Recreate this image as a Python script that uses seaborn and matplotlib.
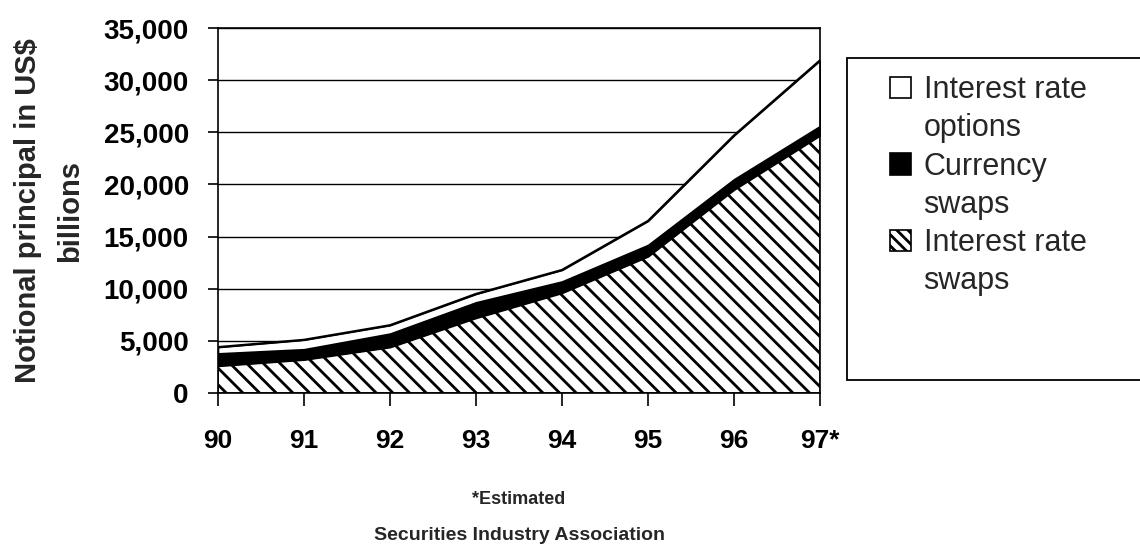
import matplotlib
matplotlib.use('Agg')
import matplotlib.pyplot as plt
import seaborn as sns
from matplotlib.patches import Patch, Rectangle
from matplotlib.ticker import FuncFormatter

# values (US$ billions)
years = ['90', '91', '92', '93', '94', '95', '96', '97*']
rate_swaps = [2600, 3200, 4400, 7200, 9600, 13100, 19500, 24700]
currency_swaps = [1200, 1000, 1300, 1500, 1100, 1100, 1000, 900]
rate_options = [600, 900, 800, 800, 1100, 2300, 4200, 6300]
y_ticks = [0, 5000, 10000, 15000, 20000, 25000, 30000, 35000]

sns.set_style('white')
plt.rcParams['font.family'] = ['Liberation Sans', 'DejaVu Sans']
plt.rcParams['hatch.linewidth'] = 2.0
plt.rcParams['hatch.color'] = 'black'

W, H = 1140, 553
fig = plt.figure(figsize=(11.4, 5.53), dpi=100)
ax = fig.add_axes([218 / W, 1 - 393 / H, 602 / W, 365 / H])

x = list(range(len(years)))
polys = ax.stackplot(x, rate_swaps, currency_swaps, rate_options,
                     colors=['white', 'black', 'white'],
                     edgecolor='black', linewidth=1.2, zorder=2)
polys[0].set_hatch('\\\\')

# outline of the total
totals = [a + b + c for a, b, c in zip(rate_swaps, currency_swaps, rate_options)]
sns.lineplot(x=x, y=totals, color='black', lw=1.6, ax=ax, zorder=3)

ax.set_xlim(0, len(years) - 1)
ax.set_ylim(0, 35000)
ax.set_xticks(x)
ax.set_xticklabels(years, fontsize=19, fontweight='bold')
ax.set_yticks(y_ticks)
ax.yaxis.set_major_formatter(FuncFormatter(lambda v, p: f'{int(v):,}'))
for lab in ax.get_yticklabels():
    lab.set_fontsize(20)
    lab.set_fontweight('bold')

ax.set_axisbelow(True)
ax.yaxis.grid(True, color='black', lw=1.0)
ax.xaxis.grid(False)
for s in ax.spines.values():
    s.set_visible(True)
    s.set_color('black')
    s.set_linewidth(1.2)

ax.tick_params(axis='x', bottom=True, direction='out', length=9, width=1.2,
               pad=17, colors='black')
ax.tick_params(axis='y', left=True, direction='out', length=7, width=1.2,
               pad=14, colors='black')

ax.set_ylabel('Notional principal in US$\nbillions', fontsize=21,
              fontweight='bold', linespacing=1.65)
ax.yaxis.set_label_coords((84 - 218) / 602, 0.5)
ax.set_xlabel('')

fig.text(519 / W, 1 - 500 / H, '*Estimated', ha='center', va='center',
         fontsize=13, fontweight='bold')
fig.text(519 / W, 1 - 535 / H, 'Securities Industry Association',
         ha='center', va='center', fontsize=14, fontweight='bold')

# legend box (runs off the right edge like the original)
fig.patches.append(Rectangle((847 / W, 1 - 380 / H), 310 / W, 322 / H,
                             transform=fig.transFigure, facecolor='white',
                             edgecolor='black', lw=1.3, zorder=0))

# legend: first line carries the swatch, second line has an empty one
blank = Patch(facecolor='none', edgecolor='none')
handles = [
    Patch(facecolor='white', edgecolor='black', lw=1.2), blank,
    Patch(facecolor='black', edgecolor='black', lw=1.2), blank,
    Patch(facecolor='white', edgecolor='black', hatch='\\\\\\', lw=1.2), blank,
]
labels = ['Interest rate', 'options', 'Currency', 'swaps', 'Interest rate', 'swaps']
leg = fig.legend(handles, labels, loc='upper left',
                 bbox_to_anchor=(890 / W, 1 - 75 / H),
                 frameon=False, fontsize=22,
                 handlelength=0.7, handleheight=0.7, handletextpad=0.4,
                 labelspacing=0.27, borderpad=0, borderaxespad=0)

fig.savefig('out.png', dpi=100)
